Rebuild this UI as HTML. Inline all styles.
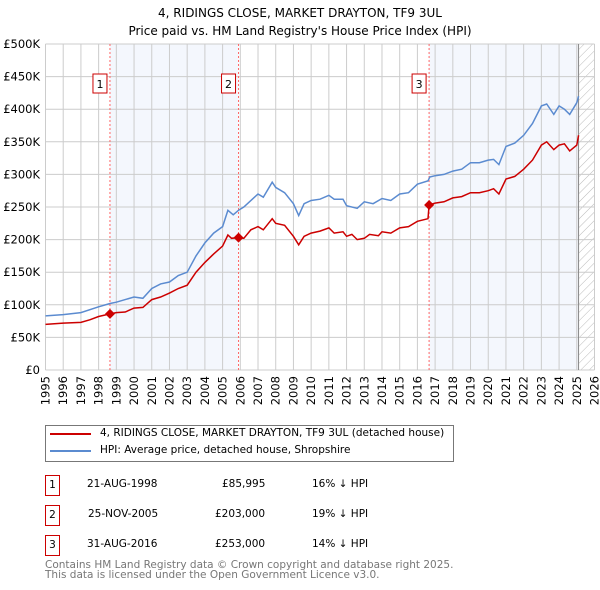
<!DOCTYPE html>
<html><head><meta charset="utf-8"><style>
body{margin:0;background:#fff;font-family:"DejaVu Sans","Liberation Sans",sans-serif;}
#wrap{position:relative;width:600px;height:590px;overflow:hidden}
.t{position:absolute;font-size:10.5px;color:#000;white-space:nowrap}
.box{position:absolute;border:1px solid #c00;width:13px;height:19px;font-size:10.5px;text-align:center;line-height:19px}
</style></head><body><div id="wrap">
<svg id="chart" width="600" height="420" style="position:absolute;left:0;top:0" font-family="DejaVu Sans, Liberation Sans, sans-serif">
<defs><pattern id="hatch" width="6" height="6" patternUnits="userSpaceOnUse" patternTransform="rotate(45)"><line x1="0" y1="0" x2="0" y2="6" stroke="#bbb" stroke-width="1"/></pattern></defs>
<text x="300" y="17" text-anchor="middle" font-size="12">4, RIDINGS CLOSE, MARKET DRAYTON, TF9 3UL</text>
<text x="300" y="35" text-anchor="middle" font-size="12">Price paid vs. HM Land Registry's House Price Index (HPI)</text>
<g id="g"></g>
</svg>
<div style="position:absolute;left:45px;top:425px;width:407px;height:35px;border:1px solid #777"></div>
<div style="position:absolute;left:50px;top:433px;width:41px;height:2px;background:#c00"></div>
<div style="position:absolute;left:50px;top:450px;width:41px;height:2px;background:#5b8bd0"></div>
<div class="t" style="left:100px;top:427px">4, RIDINGS CLOSE, MARKET DRAYTON, TF9 3UL (detached house)</div>
<div class="t" style="left:100px;top:444px">HPI: Average price, detached house, Shropshire</div>

<div class="box" style="left:45px;top:475px">1</div>
<div class="t" style="left:87px;top:478px">21-AUG-1998</div>
<div class="t" style="left:222px;top:478px">£85,995</div>
<div class="t" style="left:312px;top:478px">16% ↓ HPI</div>
<div class="box" style="left:45px;top:505px">2</div>
<div class="t" style="left:88px;top:508px">25-NOV-2005</div>
<div class="t" style="left:215px;top:508px">£203,000</div>
<div class="t" style="left:312px;top:508px">19% ↓ HPI</div>
<div class="box" style="left:45px;top:535px">3</div>
<div class="t" style="left:87px;top:538px">31-AUG-2016</div>
<div class="t" style="left:215px;top:538px">£253,000</div>
<div class="t" style="left:312px;top:538px">14% ↓ HPI</div>
<div class="t" style="left:45px;top:560px;color:#777;line-height:10px">Contains HM Land Registry data © Crown copyright and database right 2025.<br>This data is licensed under the Open Government Licence v3.0.</div>
</div>
<script>
const yTicks=[0,50,100,150,200,250,300,350,400,450,500];
const yTickLabels=["£0","£50K","£100K","£150K","£200K","£250K","£300K","£350K","£400K","£450K","£500K"];
const xYears=[1995,1996,1997,1998,1999,2000,2001,2002,2003,2004,2005,2006,2007,2008,2009,2010,2011,2012,2013,2014,2015,2016,2017,2018,2019,2020,2021,2022,2023,2024,2025,2026];
const redT=[1995,1996,1997,1997.5,1998,1998.64,1999,1999.5,2000,2000.5,2001,2001.5,2002,2002.5,2003,2003.5,2004,2004.5,2005,2005.3,2005.5,2005.9,2006.2,2006.6,2007,2007.3,2007.8,2008,2008.5,2009,2009.3,2009.6,2010,2010.5,2011,2011.3,2011.8,2012,2012.3,2012.6,2013,2013.3,2013.8,2014,2014.5,2015,2015.5,2016,2016.6,2016.66,2017,2017.5,2018,2018.5,2019,2019.5,2020,2020.3,2020.6,2021,2021.5,2022,2022.5,2023,2023.3,2023.7,2024,2024.3,2024.6,2025,2025.1];
const redV=[70,72,73,77,82,86,88,89,95,96,108,112,118,125,130,150,165,178,190,207,202,203,202,215,220,215,232,225,222,205,192,205,210,213,218,210,212,205,208,200,202,208,206,212,210,218,220,228,232,253,256,258,264,266,272,272,275,278,270,293,297,308,322,345,350,338,345,347,336,345,360];
const hpiT=[1995,1996,1997,1998,1998.64,1999,2000,2000.5,2001,2001.5,2002,2002.5,2003,2003.5,2004,2004.5,2005,2005.3,2005.6,2005.9,2006.2,2006.8,2007,2007.3,2007.8,2008,2008.5,2009,2009.3,2009.6,2010,2010.5,2011,2011.3,2011.8,2012,2012.6,2013,2013.5,2014,2014.5,2015,2015.5,2016,2016.6,2016.7,2017,2017.5,2018,2018.5,2019,2019.5,2020,2020.3,2020.6,2021,2021.5,2022,2022.5,2023,2023.3,2023.7,2024,2024.3,2024.6,2025,2025.1];
const hpiV=[83,85,88,97,102,104,112,110,125,132,135,145,150,175,195,210,220,245,238,245,250,265,270,265,288,280,272,255,237,255,260,262,268,262,262,252,248,258,255,263,260,270,272,285,290,296,298,300,305,308,318,318,322,323,315,343,348,360,378,405,408,392,405,400,392,410,420];
const saleT=[1998.64,2005.9,2016.66];
const saleV=[85.995,203,253];
const saleLabels=["1","2","3"];
const X0=45.5,X1=594.5,Y0=370,Y1=44;
const xs=t=>X0+(t-1995)/(2026-1995)*(X1-X0);
const ys=v=>Y0-v/500*(Y0-Y1);
const NS="http://www.w3.org/2000/svg";
const g=document.getElementById('g');
function mk(tag,attrs){const e=document.createElementNS(NS,tag);for(const k in attrs)e.setAttribute(k,attrs[k]);g.appendChild(e);return e;}
let e;
e=mk('rect',{x:xs(saleT[0]),y:Y1,width:xs(saleT[1])-xs(saleT[0]),height:Y0-Y1,fill:'#f4f7fd'});


e=mk('rect',{x:xs(saleT[2]),y:Y1,width:xs(2025.1)-xs(saleT[2]),height:Y0-Y1,fill:'#f4f7fd'});


e=mk('rect',{x:xs(2025.1),y:Y1,width:X1-xs(2025.1),height:Y0-Y1,fill:'url(#hatch)'});


yTicks.forEach((v,i)=>{
 e=mk('line',{x1:X0,x2:X1,y1:ys(v),y2:ys(v),stroke:'#ccc','stroke-width':1});
 
 
 e=mk('text',{x:40,y:ys(v)+4,'text-anchor':'end','font-size':11.5});
 e.textContent=yTickLabels[i];
 
 
});
xYears.forEach(y=>{
 e=mk('line',{x1:xs(y),x2:xs(y),y1:Y1,y2:Y0,stroke:'#ccc','stroke-width':1});
 
 
 e=mk('text',{x:0,y:0,'text-anchor':'end','font-size':11.5,transform:`translate(${xs(y)+4},${Y0+6}) rotate(-90)`});
 e.textContent=y;
 
 
});
e=mk('line',{x1:xs(2025.1),x2:xs(2025.1),y1:Y1,y2:Y0,stroke:'#888','stroke-width':1});


saleT.forEach((t,i)=>{
 e=mk('line',{x1:xs(t),x2:xs(t),y1:Y1,y2:Y0,stroke:'#f66','stroke-width':1,'stroke-dasharray':'2,2'});
 
 
 e=mk('rect',{x:xs(t)-17,y:74,width:14,height:19,fill:'#fff',stroke:'#c00'});
 
 
 e=mk('text',{x:xs(t)-10,y:88,'text-anchor':'middle','font-size':11});
 e.textContent=saleLabels[i];
 
 
});
function path(T,V,c,n){
 e=mk('path',{d:T.map((t,i)=>(i?'L':'M')+xs(t).toFixed(1)+','+ys(V[i]).toFixed(1)).join(''),fill:'none',stroke:c,'stroke-width':1.5});
 
 
}
path(hpiT,hpiV,'#5b8bd0','hpi-line');
path(redT,redV,'#c00','property-price-line');
saleT.forEach((t,i)=>{
 e=mk('path',{d:`M${xs(t)},${ys(saleV[i])-5}l5,5l-5,5l-5,-5z`,fill:'#c00'});
 
 
});
</script></body></html>
